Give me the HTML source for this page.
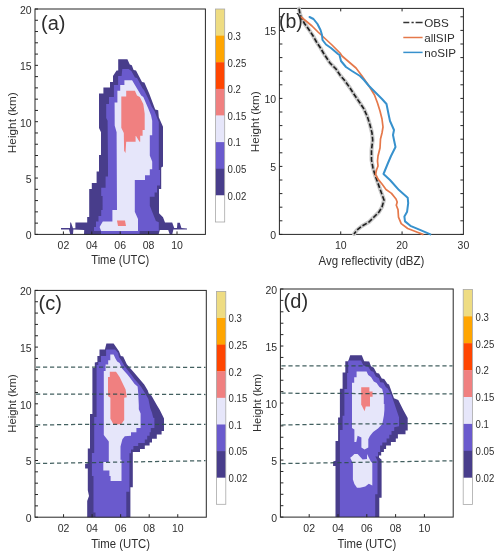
<!DOCTYPE html><html><head><meta charset="utf-8"><style>html,body{margin:0;padding:0;background:#fff;width:500px;height:556px;overflow:hidden}svg{display:block;will-change:transform}text{font-family:"Liberation Sans",sans-serif;fill:#2E2E2E}</style></head><body>
<svg width="500" height="556" viewBox="0 0 500 556">
<polygon points="84.0,234.4 84.2,230.0 73.4,229.6 73.0,234.0 70.2,234.0 69.0,229.6 61.0,229.6 61.0,228.0 70.0,228.0 70.2,222.4 71.0,222.4 73.0,228.2 75.4,228.2 75.4,222.4 87.2,222.4 87.2,217.0 89.2,217.0 89.2,189.0 91.8,189.0 91.8,183.0 96.6,183.0 96.6,171.6 99.0,171.6 99.0,155.0 101.0,155.0 101.0,132.2 99.0,128.0 99.0,93.4 103.4,93.4 103.4,87.4 110.0,87.4 110.0,82.0 113.0,82.0 113.0,76.0 116.6,70.6 118.2,70.6 118.2,59.2 127.4,59.2 129.8,64.6 131.8,65.2 133.6,70.0 136.0,70.6 142.0,82.0 144.4,82.6 149.2,93.4 155.2,109.6 158.2,110.2 158.8,117.2 163.0,126.8 163.0,166.4 161.2,167.4 161.2,189.0 159.0,189.0 159.0,213.2 163.0,217.2 165.0,222.4 172.2,222.4 174.2,228.0 177.0,228.0 177.4,222.8 179.8,222.8 181.4,228.0 187.0,228.4 187.0,229.6 173.4,229.6 172.2,234.4 169.8,234.4 168.2,230.0 159.8,230.0 158.6,234.4" fill="#483D8B"/>
<polygon points="101.0,234.4 101.0,231.0 94.0,231.0 94.0,227.0 96.0,227.0 96.0,221.5 98.5,221.5 98.5,216.0 101.2,216.0 101.2,210.0 102.6,210.0 102.6,196.0 101.2,196.0 101.2,187.8 105.6,187.8 105.6,176.4 108.0,176.4 108.0,165.0 107.6,120.8 106.2,118.0 106.2,104.0 109.0,104.0 109.0,97.0 113.9,97.0 113.9,85.1 118.1,85.1 118.1,76.0 121.6,76.0 122.3,69.0 128.6,69.0 131.4,71.1 134.9,77.4 137.0,78.1 142.6,88.6 144.0,90.0 148.2,98.4 151.7,106.8 154.5,111.0 156.6,116.6 158.8,122.0 158.8,170.0 160.0,170.0 160.0,185.4 157.0,185.4 157.0,192.6 154.6,192.6 154.6,196.8 149.8,196.8 149.8,205.8 155.9,220.9 158.8,222.3 158.8,231.0 139.6,231.0 139.6,234.4" fill="#6A5ACD"/>
<polygon points="101.2,231.0 99.6,227.0 102.8,221.4 112.4,221.4 112.4,210.0 117.0,210.0 116.6,132.2 114.7,125.6 114.6,102.6 117.4,102.6 117.4,90.7 120.2,90.7 120.2,85.1 124.4,85.1 124.4,80.2 132.1,80.2 137.0,88.6 141.2,95.6 143.3,97.0 148.2,108.2 151.0,115.2 152.2,120.8 152.2,135.2 149.8,135.2 149.8,155.6 152.2,161.6 152.2,169.2 149.8,169.2 149.8,175.2 145.0,175.2 145.0,180.0 134.8,180.0 134.8,211.8 138.0,219.0 138.0,231.0" fill="#E6E6FA"/>
<polygon points="126.2,90.7 134.9,90.7 137.0,95.6 139.8,97.0 143.3,104.0 144.7,113.8 144.7,130.1 142.6,130.1 142.6,135.7 140.2,135.7 140.2,141.7 139.5,141.7 136.0,136.1 135.6,136.1 135.6,141.7 126.2,141.7 125.5,152.9 124.1,150.8 123.8,133.0 121.3,127.7 121.3,96.4 126.2,96.4" fill="#F08080"/>
<polygon points="117.0,220.5 125.0,220.5 126.0,226.0 118.0,226.0" fill="#F08080"/>
<rect x="35" y="9" width="170.4" height="225.4" fill="none" stroke="#262626" stroke-width="1"/>
<line x1="35" y1="234.40" x2="38" y2="234.40" stroke="#262626" stroke-width="1"/>
<text x="31.70" y="239.20" font-size="10.5" text-anchor="end" >0</text>
<line x1="35" y1="223.13" x2="38" y2="223.13" stroke="#262626" stroke-width="1"/>
<line x1="35" y1="211.86" x2="38" y2="211.86" stroke="#262626" stroke-width="1"/>
<line x1="35" y1="200.59" x2="38" y2="200.59" stroke="#262626" stroke-width="1"/>
<line x1="35" y1="189.32" x2="38" y2="189.32" stroke="#262626" stroke-width="1"/>
<line x1="35" y1="178.05" x2="38" y2="178.05" stroke="#262626" stroke-width="1"/>
<text x="31.70" y="182.85" font-size="10.5" text-anchor="end" >5</text>
<line x1="35" y1="166.78" x2="38" y2="166.78" stroke="#262626" stroke-width="1"/>
<line x1="35" y1="155.51" x2="38" y2="155.51" stroke="#262626" stroke-width="1"/>
<line x1="35" y1="144.24" x2="38" y2="144.24" stroke="#262626" stroke-width="1"/>
<line x1="35" y1="132.97" x2="38" y2="132.97" stroke="#262626" stroke-width="1"/>
<line x1="35" y1="121.70" x2="38" y2="121.70" stroke="#262626" stroke-width="1"/>
<text x="31.70" y="126.50" font-size="10.5" text-anchor="end" >10</text>
<line x1="35" y1="110.43" x2="38" y2="110.43" stroke="#262626" stroke-width="1"/>
<line x1="35" y1="99.16" x2="38" y2="99.16" stroke="#262626" stroke-width="1"/>
<line x1="35" y1="87.89" x2="38" y2="87.89" stroke="#262626" stroke-width="1"/>
<line x1="35" y1="76.62" x2="38" y2="76.62" stroke="#262626" stroke-width="1"/>
<line x1="35" y1="65.35" x2="38" y2="65.35" stroke="#262626" stroke-width="1"/>
<text x="31.70" y="70.15" font-size="10.5" text-anchor="end" >15</text>
<line x1="35" y1="54.08" x2="38" y2="54.08" stroke="#262626" stroke-width="1"/>
<line x1="35" y1="42.81" x2="38" y2="42.81" stroke="#262626" stroke-width="1"/>
<line x1="35" y1="31.54" x2="38" y2="31.54" stroke="#262626" stroke-width="1"/>
<line x1="35" y1="20.27" x2="38" y2="20.27" stroke="#262626" stroke-width="1"/>
<line x1="35" y1="9.00" x2="38" y2="9.00" stroke="#262626" stroke-width="1"/>
<text x="31.70" y="13.80" font-size="10.5" text-anchor="end" >20</text>
<line x1="63.40" y1="234.4" x2="63.40" y2="231.4" stroke="#262626" stroke-width="1"/>
<text x="63.40" y="249.00" font-size="10.5" text-anchor="middle" >02</text>
<line x1="91.80" y1="234.4" x2="91.80" y2="231.4" stroke="#262626" stroke-width="1"/>
<text x="91.80" y="249.00" font-size="10.5" text-anchor="middle" >04</text>
<line x1="120.20" y1="234.4" x2="120.20" y2="231.4" stroke="#262626" stroke-width="1"/>
<text x="120.20" y="249.00" font-size="10.5" text-anchor="middle" >06</text>
<line x1="148.60" y1="234.4" x2="148.60" y2="231.4" stroke="#262626" stroke-width="1"/>
<text x="148.60" y="249.00" font-size="10.5" text-anchor="middle" >08</text>
<line x1="177.00" y1="234.4" x2="177.00" y2="231.4" stroke="#262626" stroke-width="1"/>
<text x="177.00" y="249.00" font-size="10.5" text-anchor="middle" >10</text>
<text x="0" y="0" font-size="11.2" text-anchor="middle" transform="translate(120.20,263.60) scale(1.0,1.08)" >Time (UTC)</text>
<text x="0" y="0" font-size="11.8" text-anchor="middle" transform="translate(15.5,122.70) rotate(-90)">Height (km)</text>
<text x="41.00" y="29.80" font-size="20" text-anchor="start" >(a)</text>
<rect x="215.4" y="9.00" width="9.30" height="26.93" fill="#EEDC82"/>
<rect x="215.4" y="35.62" width="9.30" height="26.93" fill="#FFA500"/>
<rect x="215.4" y="62.25" width="9.30" height="26.93" fill="#FF4500"/>
<rect x="215.4" y="88.88" width="9.30" height="26.93" fill="#F08080"/>
<rect x="215.4" y="115.50" width="9.30" height="26.93" fill="#E6E6FA"/>
<rect x="215.4" y="142.12" width="9.30" height="26.93" fill="#6A5ACD"/>
<rect x="215.4" y="168.75" width="9.30" height="26.93" fill="#483D8B"/>
<rect x="215.4" y="195.38" width="9.30" height="26.93" fill="#FFFFFF"/>
<rect x="215.4" y="9" width="9.30" height="213.00" fill="none" stroke="#A8A8A8" stroke-width="0.8"/>
<text x="0" y="0" font-size="9.6" transform="translate(227.60,39.92) scale(1,1.18)">0.3</text>
<text x="0" y="0" font-size="9.6" transform="translate(227.60,66.55) scale(1,1.18)">0.25</text>
<text x="0" y="0" font-size="9.6" transform="translate(227.60,93.17) scale(1,1.18)">0.2</text>
<text x="0" y="0" font-size="9.6" transform="translate(227.60,119.80) scale(1,1.18)">0.15</text>
<text x="0" y="0" font-size="9.6" transform="translate(227.60,146.43) scale(1,1.18)">0.1</text>
<text x="0" y="0" font-size="9.6" transform="translate(227.60,173.05) scale(1,1.18)">0.05</text>
<text x="0" y="0" font-size="9.6" transform="translate(227.60,199.68) scale(1,1.18)">0.02</text>
<polygon points="87.2,517.2 87.2,501.0 89.0,496.0 87.8,490.2 87.8,468.6 85.1,468.6 85.1,463.9 87.8,463.2 87.8,448.6 90.0,448.6 90.0,414.0 92.4,414.0 92.4,368.0 94.8,368.0 94.8,362.6 97.4,362.0 97.4,356.0 99.5,356.0 99.5,349.4 104.9,349.4 106.4,343.4 113.6,343.4 119.0,351.2 120.8,356.0 123.2,356.4 126.8,364.2 134.0,372.6 144.2,384.6 147.8,390.6 149.0,394.2 151.4,395.4 156.8,405.0 159.8,410.0 164.0,418.4 164.0,431.0 161.6,431.0 161.6,434.6 156.8,434.6 156.8,438.8 152.0,438.8 152.0,442.4 149.6,442.4 149.6,445.4 144.8,445.4 144.8,449.0 140.0,449.0 140.0,452.0 132.8,452.0 132.8,487.2 130.4,487.2 130.4,517.2" fill="#483D8B"/>
<polygon points="95.5,517.2 95.5,512.4 93.5,512.4 93.5,476.0 91.9,476.0 91.9,453.1 94.2,453.1 94.2,417.0 96.6,417.0 96.6,365.0 98.3,365.0 98.3,362.0 101.0,362.0 101.0,356.0 106.1,356.0 106.1,349.4 115.1,349.4 118.1,353.0 119.0,357.0 120.8,359.4 124.4,366.0 129.2,372.0 132.8,376.8 134.6,379.2 138.8,384.0 141.2,387.0 146.0,394.8 148.4,399.0 150.2,408.0 152.0,412.8 153.2,417.8 154.4,418.0 154.4,428.0 150.8,428.0 150.8,432.2 149.6,432.2 149.6,435.8 147.2,435.8 147.2,439.4 144.8,439.4 144.8,443.0 138.2,443.0 138.2,446.0 133.4,446.0 133.4,449.6 131.0,449.6 131.0,453.2 129.4,453.2 129.4,491.8 126.3,491.8 126.3,517.2" fill="#6A5ACD"/>
<polygon points="110.6,481.0 110.6,476.0 109.4,476.0 109.4,470.6 103.3,470.6 103.3,462.0 108.8,462.0 108.8,441.6 103.8,435.0 103.8,371.0 105.6,371.0 105.6,364.4 108.2,364.4 108.2,360.2 110.3,360.2 110.3,354.5 113.6,354.5 115.4,358.4 117.2,361.4 119.6,363.0 122.0,368.4 127.4,374.4 129.8,377.4 134.6,384.0 137.6,386.4 138.2,393.0 138.8,405.0 138.8,409.2 140.6,413.6 140.6,428.0 136.4,428.0 136.4,432.2 131.0,432.2 131.0,435.8 124.8,436.2 122.4,439.2 120.5,446.4 120.5,459.8 121.5,459.8 121.5,481.0" fill="#E6E6FA"/>
<polygon points="109.8,371.8 116.0,371.8 119.6,377.0 125.6,389.4 126.8,397.2 124.2,397.8 124.2,420.0 121.2,424.2 113.4,424.2 110.4,418.8 110.4,397.8 108.0,396.0 108.0,377.0 109.8,377.0" fill="#F08080"/>
<rect x="35" y="290.4" width="171.3" height="226.80000000000007" fill="none" stroke="#262626" stroke-width="1"/>
<line x1="35" y1="517.20" x2="38" y2="517.20" stroke="#262626" stroke-width="1"/>
<text x="31.70" y="522.00" font-size="10.5" text-anchor="end" >0</text>
<line x1="35" y1="505.86" x2="38" y2="505.86" stroke="#262626" stroke-width="1"/>
<line x1="35" y1="494.52" x2="38" y2="494.52" stroke="#262626" stroke-width="1"/>
<line x1="35" y1="483.18" x2="38" y2="483.18" stroke="#262626" stroke-width="1"/>
<line x1="35" y1="471.84" x2="38" y2="471.84" stroke="#262626" stroke-width="1"/>
<line x1="35" y1="460.50" x2="38" y2="460.50" stroke="#262626" stroke-width="1"/>
<text x="31.70" y="465.30" font-size="10.5" text-anchor="end" >5</text>
<line x1="35" y1="449.16" x2="38" y2="449.16" stroke="#262626" stroke-width="1"/>
<line x1="35" y1="437.82" x2="38" y2="437.82" stroke="#262626" stroke-width="1"/>
<line x1="35" y1="426.48" x2="38" y2="426.48" stroke="#262626" stroke-width="1"/>
<line x1="35" y1="415.14" x2="38" y2="415.14" stroke="#262626" stroke-width="1"/>
<line x1="35" y1="403.80" x2="38" y2="403.80" stroke="#262626" stroke-width="1"/>
<text x="31.70" y="408.60" font-size="10.5" text-anchor="end" >10</text>
<line x1="35" y1="392.46" x2="38" y2="392.46" stroke="#262626" stroke-width="1"/>
<line x1="35" y1="381.12" x2="38" y2="381.12" stroke="#262626" stroke-width="1"/>
<line x1="35" y1="369.78" x2="38" y2="369.78" stroke="#262626" stroke-width="1"/>
<line x1="35" y1="358.44" x2="38" y2="358.44" stroke="#262626" stroke-width="1"/>
<line x1="35" y1="347.10" x2="38" y2="347.10" stroke="#262626" stroke-width="1"/>
<text x="31.70" y="351.90" font-size="10.5" text-anchor="end" >15</text>
<line x1="35" y1="335.76" x2="38" y2="335.76" stroke="#262626" stroke-width="1"/>
<line x1="35" y1="324.42" x2="38" y2="324.42" stroke="#262626" stroke-width="1"/>
<line x1="35" y1="313.08" x2="38" y2="313.08" stroke="#262626" stroke-width="1"/>
<line x1="35" y1="301.74" x2="38" y2="301.74" stroke="#262626" stroke-width="1"/>
<line x1="35" y1="290.40" x2="38" y2="290.40" stroke="#262626" stroke-width="1"/>
<text x="31.70" y="295.20" font-size="10.5" text-anchor="end" >20</text>
<line x1="63.55" y1="517.2" x2="63.55" y2="514.2" stroke="#262626" stroke-width="1"/>
<text x="63.55" y="531.80" font-size="10.5" text-anchor="middle" >02</text>
<line x1="92.10" y1="517.2" x2="92.10" y2="514.2" stroke="#262626" stroke-width="1"/>
<text x="92.10" y="531.80" font-size="10.5" text-anchor="middle" >04</text>
<line x1="120.65" y1="517.2" x2="120.65" y2="514.2" stroke="#262626" stroke-width="1"/>
<text x="120.65" y="531.80" font-size="10.5" text-anchor="middle" >06</text>
<line x1="149.20" y1="517.2" x2="149.20" y2="514.2" stroke="#262626" stroke-width="1"/>
<text x="149.20" y="531.80" font-size="10.5" text-anchor="middle" >08</text>
<line x1="177.75" y1="517.2" x2="177.75" y2="514.2" stroke="#262626" stroke-width="1"/>
<text x="177.75" y="531.80" font-size="10.5" text-anchor="middle" >10</text>
<text x="0" y="0" font-size="11.35" text-anchor="middle" transform="translate(120.65,547.50) scale(1.0,1.08)" >Time (UTC)</text>
<text x="0" y="0" font-size="11.3" text-anchor="middle" transform="translate(15.5,403.50) rotate(-90)">Height (km)</text>
<text x="38.50" y="309.60" font-size="20" text-anchor="start" >(c)</text>
<rect x="216.4" y="291.40" width="9.40" height="26.91" fill="#EEDC82"/>
<rect x="216.4" y="318.01" width="9.40" height="26.91" fill="#FFA500"/>
<rect x="216.4" y="344.62" width="9.40" height="26.91" fill="#FF4500"/>
<rect x="216.4" y="371.24" width="9.40" height="26.91" fill="#F08080"/>
<rect x="216.4" y="397.85" width="9.40" height="26.91" fill="#E6E6FA"/>
<rect x="216.4" y="424.46" width="9.40" height="26.91" fill="#6A5ACD"/>
<rect x="216.4" y="451.07" width="9.40" height="26.91" fill="#483D8B"/>
<rect x="216.4" y="477.69" width="9.40" height="26.91" fill="#FFFFFF"/>
<rect x="216.4" y="291.4" width="9.40" height="212.90" fill="none" stroke="#A8A8A8" stroke-width="0.8"/>
<text x="0" y="0" font-size="9.6" transform="translate(228.60,322.31) scale(1,1.18)">0.3</text>
<text x="0" y="0" font-size="9.6" transform="translate(228.60,348.93) scale(1,1.18)">0.25</text>
<text x="0" y="0" font-size="9.6" transform="translate(228.60,375.54) scale(1,1.18)">0.2</text>
<text x="0" y="0" font-size="9.6" transform="translate(228.60,402.15) scale(1,1.18)">0.15</text>
<text x="0" y="0" font-size="9.6" transform="translate(228.60,428.76) scale(1,1.18)">0.1</text>
<text x="0" y="0" font-size="9.6" transform="translate(228.60,455.38) scale(1,1.18)">0.05</text>
<text x="0" y="0" font-size="9.6" transform="translate(228.60,481.99) scale(1,1.18)">0.02</text>
<polyline points="36.0,367.0 205.5,367.3" fill="none" stroke="#2F4F4F" stroke-width="1.25" stroke-dasharray="4.2 2.8" stroke-opacity="0.9"/>
<polyline points="36.0,394.0 205.5,394.5" fill="none" stroke="#2F4F4F" stroke-width="1.25" stroke-dasharray="4.2 2.8" stroke-opacity="0.9"/>
<polyline points="36.0,425.0 90.0,424.3 205.5,424.3" fill="none" stroke="#2F4F4F" stroke-width="1.25" stroke-dasharray="4.2 2.8" stroke-opacity="0.9"/>
<polyline points="36.0,463.5 205.5,460.7" fill="none" stroke="#2F4F4F" stroke-width="1.25" stroke-dasharray="4.2 2.8" stroke-opacity="0.9"/>
<polygon points="335.5,517.1 335.5,466.0 333.1,466.0 333.1,461.4 335.5,460.7 335.5,441.0 338.1,441.0 338.1,417.6 339.9,417.6 339.9,388.8 342.6,388.8 342.6,372.6 345.3,372.6 345.3,361.2 348.2,361.2 350.2,355.2 361.8,355.2 364.2,361.2 369.2,361.4 371.0,366.2 373.8,367.8 376.6,373.0 379.0,373.4 381.8,378.6 384.2,379.0 387.4,383.8 389.0,384.6 394.0,398.3 398.3,400.0 403.3,410.0 407.7,418.1 407.7,430.5 405.5,430.5 405.5,434.3 397.9,434.3 397.9,438.6 395.8,438.6 395.8,441.9 390.9,441.9 390.9,445.6 386.1,445.6 386.1,448.9 383.9,448.9 383.9,452.1 381.2,452.1 381.2,455.4 379.0,455.4 379.0,457.5 381.6,459.7 381.6,497.7 379.3,497.7 379.3,517.1" fill="#483D8B"/>
<polygon points="339.9,517.1 339.9,430.0 342.6,430.0 342.6,415.8 344.4,415.8 344.4,389.0 347.1,389.0 347.1,373.0 348.2,373.0 348.2,360.4 361.0,360.4 363.4,365.6 368.2,366.8 371.0,371.0 373.4,371.8 375.8,376.6 379.0,378.2 380.2,382.2 383.4,382.6 385.8,387.0 387.8,388.6 391.4,395.0 396.2,409.1 399.0,417.2 399.0,426.2 394.2,427.3 394.2,431.0 391.5,431.0 391.5,434.8 389.3,434.8 389.3,438.6 386.6,438.6 386.6,442.4 382.3,442.4 382.3,445.6 380.1,445.6 380.1,452.1 378.0,452.1 378.0,456.4 375.3,456.4 377.5,460.8 377.5,494.2 375.2,494.2 375.2,517.1" fill="#6A5ACD"/>
<polygon points="356.6,371.6 366.6,371.6 368.2,375.0 371.0,377.0 373.8,381.4 376.6,383.0 379.4,387.0 382.2,389.0 383.8,396.0 383.8,404.0 384.4,404.0 384.4,410.0 383.9,415.4 382.3,424.0 378.0,428.4 373.1,432.1 369.9,435.9 368.3,439.2 368.3,447.6 364.5,449.5 361.4,447.6 361.4,437.6 357.6,435.7 356.3,442.0 354.4,442.0 354.4,429.4 352.0,428.0 352.0,382.8 354.2,382.8 354.2,377.2 356.6,377.2" fill="#E6E6FA"/>
<polygon points="354.4,454.0 357.6,454.0 362.6,459.6 367.0,459.0 367.0,454.0 370.8,461.5 372.3,463.0 372.3,485.4 368.8,483.7 365.3,486.6 360.0,487.7 357.0,487.7 354.4,484.1 352.9,479.5 352.9,463.2 350.2,457.8 351.9,456.4" fill="#E6E6FA"/>
<polygon points="361.2,387.2 369.4,387.2 369.4,391.4 372.6,391.4 372.6,396.8 370.0,396.8 370.0,406.4 365.8,406.4 364.6,411.2 361.6,405.2 361.2,405.0" fill="#F08080"/>
<rect x="280.4" y="289" width="172.8" height="228.10000000000002" fill="none" stroke="#262626" stroke-width="1"/>
<line x1="280.4" y1="517.10" x2="283.4" y2="517.10" stroke="#262626" stroke-width="1"/>
<text x="277.10" y="521.90" font-size="10.5" text-anchor="end" >0</text>
<line x1="280.4" y1="505.70" x2="283.4" y2="505.70" stroke="#262626" stroke-width="1"/>
<line x1="280.4" y1="494.29" x2="283.4" y2="494.29" stroke="#262626" stroke-width="1"/>
<line x1="280.4" y1="482.88" x2="283.4" y2="482.88" stroke="#262626" stroke-width="1"/>
<line x1="280.4" y1="471.48" x2="283.4" y2="471.48" stroke="#262626" stroke-width="1"/>
<line x1="280.4" y1="460.08" x2="283.4" y2="460.08" stroke="#262626" stroke-width="1"/>
<text x="277.10" y="464.88" font-size="10.5" text-anchor="end" >5</text>
<line x1="280.4" y1="448.67" x2="283.4" y2="448.67" stroke="#262626" stroke-width="1"/>
<line x1="280.4" y1="437.26" x2="283.4" y2="437.26" stroke="#262626" stroke-width="1"/>
<line x1="280.4" y1="425.86" x2="283.4" y2="425.86" stroke="#262626" stroke-width="1"/>
<line x1="280.4" y1="414.46" x2="283.4" y2="414.46" stroke="#262626" stroke-width="1"/>
<line x1="280.4" y1="403.05" x2="283.4" y2="403.05" stroke="#262626" stroke-width="1"/>
<text x="277.10" y="407.85" font-size="10.5" text-anchor="end" >10</text>
<line x1="280.4" y1="391.64" x2="283.4" y2="391.64" stroke="#262626" stroke-width="1"/>
<line x1="280.4" y1="380.24" x2="283.4" y2="380.24" stroke="#262626" stroke-width="1"/>
<line x1="280.4" y1="368.84" x2="283.4" y2="368.84" stroke="#262626" stroke-width="1"/>
<line x1="280.4" y1="357.43" x2="283.4" y2="357.43" stroke="#262626" stroke-width="1"/>
<line x1="280.4" y1="346.02" x2="283.4" y2="346.02" stroke="#262626" stroke-width="1"/>
<text x="277.10" y="350.82" font-size="10.5" text-anchor="end" >15</text>
<line x1="280.4" y1="334.62" x2="283.4" y2="334.62" stroke="#262626" stroke-width="1"/>
<line x1="280.4" y1="323.22" x2="283.4" y2="323.22" stroke="#262626" stroke-width="1"/>
<line x1="280.4" y1="311.81" x2="283.4" y2="311.81" stroke="#262626" stroke-width="1"/>
<line x1="280.4" y1="300.40" x2="283.4" y2="300.40" stroke="#262626" stroke-width="1"/>
<line x1="280.4" y1="289.00" x2="283.4" y2="289.00" stroke="#262626" stroke-width="1"/>
<text x="277.10" y="293.80" font-size="10.5" text-anchor="end" >20</text>
<line x1="309.20" y1="517.1" x2="309.20" y2="514.1" stroke="#262626" stroke-width="1"/>
<text x="309.20" y="531.70" font-size="10.5" text-anchor="middle" >02</text>
<line x1="338.00" y1="517.1" x2="338.00" y2="514.1" stroke="#262626" stroke-width="1"/>
<text x="338.00" y="531.70" font-size="10.5" text-anchor="middle" >04</text>
<line x1="366.80" y1="517.1" x2="366.80" y2="514.1" stroke="#262626" stroke-width="1"/>
<text x="366.80" y="531.70" font-size="10.5" text-anchor="middle" >06</text>
<line x1="395.60" y1="517.1" x2="395.60" y2="514.1" stroke="#262626" stroke-width="1"/>
<text x="395.60" y="531.70" font-size="10.5" text-anchor="middle" >08</text>
<line x1="424.40" y1="517.1" x2="424.40" y2="514.1" stroke="#262626" stroke-width="1"/>
<text x="424.40" y="531.70" font-size="10.5" text-anchor="middle" >10</text>
<text x="0" y="0" font-size="11.35" text-anchor="middle" transform="translate(366.80,547.50) scale(1.0,1.08)" >Time (UTC)</text>
<text x="0" y="0" font-size="11.3" text-anchor="middle" transform="translate(260.9,402.85) rotate(-90)">Height (km)</text>
<text x="283.60" y="307.60" font-size="20" text-anchor="start" >(d)</text>
<rect x="463.2" y="289.40" width="9.20" height="27.20" fill="#EEDC82"/>
<rect x="463.2" y="316.30" width="9.20" height="27.20" fill="#FFA500"/>
<rect x="463.2" y="343.20" width="9.20" height="27.20" fill="#FF4500"/>
<rect x="463.2" y="370.10" width="9.20" height="27.20" fill="#F08080"/>
<rect x="463.2" y="397.00" width="9.20" height="27.20" fill="#E6E6FA"/>
<rect x="463.2" y="423.90" width="9.20" height="27.20" fill="#6A5ACD"/>
<rect x="463.2" y="450.80" width="9.20" height="27.20" fill="#483D8B"/>
<rect x="463.2" y="477.70" width="9.20" height="27.20" fill="#FFFFFF"/>
<rect x="463.2" y="289.4" width="9.20" height="215.20" fill="none" stroke="#A8A8A8" stroke-width="0.8"/>
<text x="0" y="0" font-size="9.6" transform="translate(475.60,320.60) scale(1,1.18)">0.3</text>
<text x="0" y="0" font-size="9.6" transform="translate(475.60,347.50) scale(1,1.18)">0.25</text>
<text x="0" y="0" font-size="9.6" transform="translate(475.60,374.40) scale(1,1.18)">0.2</text>
<text x="0" y="0" font-size="9.6" transform="translate(475.60,401.30) scale(1,1.18)">0.15</text>
<text x="0" y="0" font-size="9.6" transform="translate(475.60,428.20) scale(1,1.18)">0.1</text>
<text x="0" y="0" font-size="9.6" transform="translate(475.60,455.10) scale(1,1.18)">0.05</text>
<text x="0" y="0" font-size="9.6" transform="translate(475.60,482.00) scale(1,1.18)">0.02</text>
<polyline points="281.4,365.8 452.5,365.8" fill="none" stroke="#2F4F4F" stroke-width="1.25" stroke-dasharray="4.2 2.8" stroke-opacity="0.9"/>
<polyline points="281.4,393.2 452.5,393.9" fill="none" stroke="#2F4F4F" stroke-width="1.25" stroke-dasharray="4.2 2.8" stroke-opacity="0.9"/>
<polyline points="281.4,425.0 335.0,424.0 452.5,423.5" fill="none" stroke="#2F4F4F" stroke-width="1.25" stroke-dasharray="4.2 2.8" stroke-opacity="0.9"/>
<polyline points="281.4,463.6 452.5,460.8" fill="none" stroke="#2F4F4F" stroke-width="1.25" stroke-dasharray="4.2 2.8" stroke-opacity="0.9"/>
<rect x="279.4" y="8.4" width="184.0" height="226.0" fill="none" stroke="#262626" stroke-width="1"/>
<line x1="279.4" y1="234.40" x2="282.4" y2="234.40" stroke="#262626" stroke-width="1"/>
<line x1="463.4" y1="234.40" x2="460.4" y2="234.40" stroke="#262626" stroke-width="1"/>
<text x="276.10" y="239.00" font-size="10.5" text-anchor="end" >0</text>
<line x1="279.4" y1="220.80" x2="282.4" y2="220.80" stroke="#262626" stroke-width="1"/>
<line x1="463.4" y1="220.80" x2="460.4" y2="220.80" stroke="#262626" stroke-width="1"/>
<line x1="279.4" y1="207.20" x2="282.4" y2="207.20" stroke="#262626" stroke-width="1"/>
<line x1="463.4" y1="207.20" x2="460.4" y2="207.20" stroke="#262626" stroke-width="1"/>
<line x1="279.4" y1="193.60" x2="282.4" y2="193.60" stroke="#262626" stroke-width="1"/>
<line x1="463.4" y1="193.60" x2="460.4" y2="193.60" stroke="#262626" stroke-width="1"/>
<line x1="279.4" y1="180.00" x2="282.4" y2="180.00" stroke="#262626" stroke-width="1"/>
<line x1="463.4" y1="180.00" x2="460.4" y2="180.00" stroke="#262626" stroke-width="1"/>
<line x1="279.4" y1="166.40" x2="282.4" y2="166.40" stroke="#262626" stroke-width="1"/>
<line x1="463.4" y1="166.40" x2="460.4" y2="166.40" stroke="#262626" stroke-width="1"/>
<text x="276.10" y="171.00" font-size="10.5" text-anchor="end" >5</text>
<line x1="279.4" y1="152.80" x2="282.4" y2="152.80" stroke="#262626" stroke-width="1"/>
<line x1="463.4" y1="152.80" x2="460.4" y2="152.80" stroke="#262626" stroke-width="1"/>
<line x1="279.4" y1="139.20" x2="282.4" y2="139.20" stroke="#262626" stroke-width="1"/>
<line x1="463.4" y1="139.20" x2="460.4" y2="139.20" stroke="#262626" stroke-width="1"/>
<line x1="279.4" y1="125.60" x2="282.4" y2="125.60" stroke="#262626" stroke-width="1"/>
<line x1="463.4" y1="125.60" x2="460.4" y2="125.60" stroke="#262626" stroke-width="1"/>
<line x1="279.4" y1="112.00" x2="282.4" y2="112.00" stroke="#262626" stroke-width="1"/>
<line x1="463.4" y1="112.00" x2="460.4" y2="112.00" stroke="#262626" stroke-width="1"/>
<line x1="279.4" y1="98.40" x2="282.4" y2="98.40" stroke="#262626" stroke-width="1"/>
<line x1="463.4" y1="98.40" x2="460.4" y2="98.40" stroke="#262626" stroke-width="1"/>
<text x="276.10" y="103.00" font-size="10.5" text-anchor="end" >10</text>
<line x1="279.4" y1="84.80" x2="282.4" y2="84.80" stroke="#262626" stroke-width="1"/>
<line x1="463.4" y1="84.80" x2="460.4" y2="84.80" stroke="#262626" stroke-width="1"/>
<line x1="279.4" y1="71.20" x2="282.4" y2="71.20" stroke="#262626" stroke-width="1"/>
<line x1="463.4" y1="71.20" x2="460.4" y2="71.20" stroke="#262626" stroke-width="1"/>
<line x1="279.4" y1="57.60" x2="282.4" y2="57.60" stroke="#262626" stroke-width="1"/>
<line x1="463.4" y1="57.60" x2="460.4" y2="57.60" stroke="#262626" stroke-width="1"/>
<line x1="279.4" y1="44.00" x2="282.4" y2="44.00" stroke="#262626" stroke-width="1"/>
<line x1="463.4" y1="44.00" x2="460.4" y2="44.00" stroke="#262626" stroke-width="1"/>
<line x1="279.4" y1="30.40" x2="282.4" y2="30.40" stroke="#262626" stroke-width="1"/>
<line x1="463.4" y1="30.40" x2="460.4" y2="30.40" stroke="#262626" stroke-width="1"/>
<text x="276.10" y="35.00" font-size="10.5" text-anchor="end" >15</text>
<line x1="279.4" y1="16.80" x2="282.4" y2="16.80" stroke="#262626" stroke-width="1"/>
<line x1="463.4" y1="16.80" x2="460.4" y2="16.80" stroke="#262626" stroke-width="1"/>
<line x1="340.73" y1="234.4" x2="340.73" y2="231.4" stroke="#262626" stroke-width="1"/>
<line x1="340.73" y1="8.4" x2="340.73" y2="11.4" stroke="#262626" stroke-width="1"/>
<line x1="402.07" y1="234.4" x2="402.07" y2="231.4" stroke="#262626" stroke-width="1"/>
<line x1="402.07" y1="8.4" x2="402.07" y2="11.4" stroke="#262626" stroke-width="1"/>
<text x="340.73" y="249.00" font-size="10.5" text-anchor="middle" >10</text>
<text x="402.07" y="249.00" font-size="10.5" text-anchor="middle" >20</text>
<text x="463.40" y="249.00" font-size="10.5" text-anchor="middle" >30</text>
<text x="0" y="0" font-size="11.5" text-anchor="middle" transform="translate(371.40,264.50) scale(1.0,1.06)" >Avg reflectivity (dBZ)</text>
<text x="0" y="0" font-size="11.8" text-anchor="middle" transform="translate(258.9,121.70) rotate(-90)">Height (km)</text>
<polyline points="299.0,8.6 300.0,14.0 301.5,18.0 304.5,23.5 308.5,29.0 312.5,35.0 316.5,42.0 320.5,48.0 324.0,54.0 330.0,63.0 336.0,69.0 340.0,75.0 345.0,81.0 350.0,88.0 354.5,95.0 360.0,103.0 364.0,109.0 367.5,117.0 370.0,125.0 372.0,133.0 372.7,140.0 371.5,150.0 371.5,160.0 373.0,168.0 375.0,175.0 377.5,182.0 380.0,189.0 384.0,200.0 382.0,207.0 379.0,212.0 374.0,217.0 369.0,222.0 362.0,226.0 357.0,230.0 354.0,234.0" fill="none" stroke="#C8C8C8" stroke-width="4.0" stroke-linejoin="round" stroke-linecap="round" />
<polyline points="299.0,8.6 300.0,14.0 301.5,18.0 304.5,23.5 308.5,29.0 312.5,35.0 316.5,42.0 320.5,48.0 324.0,54.0 330.0,63.0 336.0,69.0 340.0,75.0 345.0,81.0 350.0,88.0 354.5,95.0 360.0,103.0 364.0,109.0 367.5,117.0 370.0,125.0 372.0,133.0 372.7,140.0 371.5,150.0 371.5,160.0 373.0,168.0 375.0,175.0 377.5,182.0 380.0,189.0 384.0,200.0 382.0,207.0 379.0,212.0 374.0,217.0 369.0,222.0 362.0,226.0 357.0,230.0 354.0,234.0" fill="none" stroke="#1E1E1E" stroke-width="1.6" stroke-linejoin="round" stroke-linecap="butt" stroke-dasharray="4.8 2"/>
<polyline points="301.0,17.0 306.0,21.0 312.0,26.0 318.0,32.0 325.0,38.5 332.0,45.0 340.0,53.0 342.0,56.0 349.0,62.0 356.0,68.0 362.0,76.0 369.0,86.0 374.5,95.0 377.5,103.0 380.0,111.0 382.0,119.0 383.0,127.0 382.0,133.0 380.5,139.0 380.0,148.0 378.0,156.0 377.5,161.0 378.0,166.0 376.5,170.0 375.5,174.5 378.0,179.0 382.0,184.0 386.0,189.5 391.5,193.4 396.0,199.0 397.2,202.0 396.3,205.2 398.0,209.6 398.5,217.1 401.2,223.6 407.7,228.5 417.4,232.2 422.8,234.4" fill="none" stroke="#E5784A" stroke-width="1.7" stroke-linejoin="round" stroke-linecap="round" />
<polyline points="309.5,17.0 313.5,19.0 317.5,24.0 320.5,30.0 322.0,35.0 322.5,40.0 326.0,44.5 331.0,48.0 338.0,54.0 339.5,55.0 341.0,61.0 346.0,67.0 352.0,71.0 360.0,76.0 364.0,80.0 369.0,86.0 378.0,95.0 382.0,99.0 386.5,104.0 388.5,114.0 390.0,121.0 394.0,130.0 393.0,135.0 394.0,140.0 395.5,147.0 391.0,156.0 388.0,163.0 383.5,174.0 390.0,180.0 399.0,190.1 407.7,197.7 408.2,203.1 407.1,211.7 404.4,216.6 405.0,221.4 410.4,225.8 420.6,230.1 430.4,234.4" fill="none" stroke="#3791CD" stroke-width="2.0" stroke-linejoin="round" stroke-linecap="round" />
<line x1="403.3" y1="22.6" x2="422.6" y2="22.6" stroke="#333333" stroke-width="1.5" stroke-dasharray="6 2.2 2.2 1.9 7"/>
<line x1="403.3" y1="37.5" x2="422.6" y2="37.5" stroke="#E5784A" stroke-width="1.5"/>
<line x1="403.3" y1="52.4" x2="422.6" y2="52.4" stroke="#3791CD" stroke-width="1.5"/>
<text x="0" y="0" font-size="10.8" text-anchor="start" transform="translate(424.20,27.10) scale(1.08,1.0)" >OBS</text>
<text x="0" y="0" font-size="10.8" text-anchor="start" transform="translate(424.20,42.00) scale(1.08,1.0)" >allSIP</text>
<text x="0" y="0" font-size="10.8" text-anchor="start" transform="translate(424.20,56.80) scale(1.08,1.0)" >noSIP</text>
<text x="278.90" y="27.60" font-size="19.5" text-anchor="start" >(b)</text>
</svg></body></html>
